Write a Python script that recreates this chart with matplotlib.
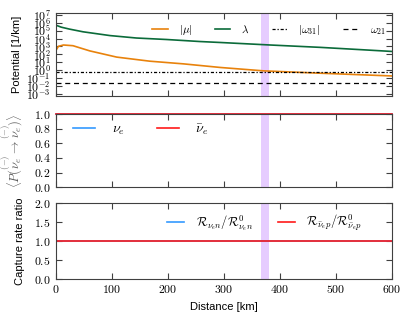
import numpy as np
import matplotlib
matplotlib.use('Agg')
import matplotlib.pyplot as plt
from matplotlib.ticker import FuncFormatter, LogLocator, MultipleLocator

# distances [km] where the curves were read
r_lam = [0, 10, 25, 49, 97, 144, 198, 258, 294, 383, 472, 549, 600]
log_lam = [5.72, 5.45, 5.2, 4.86, 4.38, 4.07, 3.88, 3.62, 3.5, 3.18, 2.88, 2.57, 2.36]

r_mu = [0, 5, 14, 31, 61, 109, 168, 228, 294, 371, 472, 600]
log_mu = [2.43, 3.01, 3.18, 3.09, 2.43, 1.64, 1.12, 0.78, 0.32, -0.11, -0.41, -0.76]

omega31 = 0.63
omega21 = 0.023

r_flat = [0, 600]
p_nue = [1.0, 1.0]
p_nuebar = [1.0, 1.0]
ratio_nue = [1.0, 1.0]
ratio_nuebar = [1.0, 1.0]

resonance = (367, 380)

plt.rcParams['font.family'] = ['Liberation Sans', 'DejaVu Sans']
plt.rcParams['mathtext.fontset'] = 'cm'
plt.rcParams['xtick.direction'] = 'in'
plt.rcParams['ytick.direction'] = 'in'
plt.rcParams['xtick.top'] = True
plt.rcParams['ytick.right'] = True
plt.rcParams['axes.edgecolor'] = '0.25'

fig = plt.figure(figsize=(4.15, 3.24), dpi=100)
L, W = 0.134, 0.81
ax1 = fig.add_axes([L, 0.704, W, 0.257])
ax2 = fig.add_axes([L, 0.422, W, 0.226])
ax3 = fig.add_axes([L, 0.138, W, 0.235])

orange = '#e8820c'
green = '#0b6b3a'
blue = '#3399ff'
red = '#ff1a1a'
band = '#e6ccff'

ax1.plot(r_mu, 10 ** np.array(log_mu), color=orange, lw=1.2, label=r'$|\mu|$')
ax1.plot(r_lam, 10 ** np.array(log_lam), color=green, lw=1.2, label=r'$\lambda$')
ax1.axhline(omega31, color='k', lw=0.9, dashes=(2.5, 1.5, 1, 1.5), label=r'$|\omega_{31}|$')
ax1.axhline(omega21, color='k', lw=0.9, dashes=(4, 3), label=r'$\omega_{21}$')
ax1.set_yscale('log')
ax1.set_ylim(10 ** -3.3, 10 ** 7.3)
ax1.yaxis.set_major_locator(LogLocator(base=10, numticks=20))
ax1.yaxis.set_major_formatter(FuncFormatter(lambda v, p: r'$10^{%d}$' % round(np.log10(v))))
ax1.set_ylabel('Potential [1/km]', fontsize=8)
ax1.legend(ncol=4, frameon=False, fontsize=8, loc='center left',
           bbox_to_anchor=(0.287, 0.79), borderpad=0, borderaxespad=0,
           handlelength=1.4, handletextpad=1.0, columnspacing=2.0)

ax2.plot(r_flat, p_nue, color=blue, lw=1.2, label=r'$\nu_e$', clip_on=False)
ax2.plot(r_flat, p_nuebar, color=red, lw=1.2, label=r'$\bar{\nu}_e$', clip_on=False)
ax2.set_ylim(0, 1.0)
ax2.yaxis.set_major_locator(MultipleLocator(0.2))
ax2.yaxis.set_major_formatter(FuncFormatter(lambda v, p: r'$%.1f$' % v))
ax2.set_ylabel(r'$\langle P(\overset{(-)}{\nu_e} \rightarrow \overset{(-)}{\nu_e})\rangle$',
               fontsize=9, color='0.35')
ax2.legend(ncol=2, frameon=False, fontsize=10, loc='center left',
           bbox_to_anchor=(0.051, 0.795), borderpad=0, borderaxespad=0,
           handlelength=1.6, handletextpad=1.2, columnspacing=2.3)

ax3.plot(r_flat, ratio_nue, color=blue, lw=1.2,
         label=r'$\mathcal{R}_{\nu_e n}/\mathcal{R}^0_{\nu_e n}$')
ax3.plot(r_flat, ratio_nuebar, color=red, lw=1.2,
         label=r'$\mathcal{R}_{\bar{\nu}_e p}/\mathcal{R}^0_{\bar{\nu}_e p}$')
ax3.set_ylim(0, 2.0)
ax3.yaxis.set_major_locator(MultipleLocator(0.5))
ax3.yaxis.set_major_formatter(FuncFormatter(lambda v, p: r'$%.1f$' % v))
ax3.set_ylabel('Capture rate ratio', fontsize=8)
ax3.set_xlabel('Distance [km]', fontsize=8)
ax3.legend(ncol=2, frameon=False, fontsize=9, loc='center left',
           bbox_to_anchor=(0.331, 0.74), borderpad=0, borderaxespad=0,
           handlelength=1.4, handletextpad=0.9, columnspacing=2.0)

for ax in (ax1, ax2, ax3):
    ax.axvspan(resonance[0], resonance[1], color=band, lw=0, zorder=0)
    ax.set_xlim(0, 600)
    ax.xaxis.set_major_locator(MultipleLocator(100))
    ax.tick_params(labelsize=8.5, length=4, width=0.8, color='0.25')
    ax.tick_params(which='minor', length=2, width=0.6)
for ax in (ax1, ax2):
    ax.tick_params(labelbottom=False)
ax3.xaxis.set_major_formatter(FuncFormatter(lambda v, p: r'$%d$' % v))

for ax, x in ((ax1, -0.1), (ax2, -0.09), (ax3, -0.09)):
    ax.yaxis.set_label_coords(x, 0.5)

fig.savefig('out.png', dpi=100)
